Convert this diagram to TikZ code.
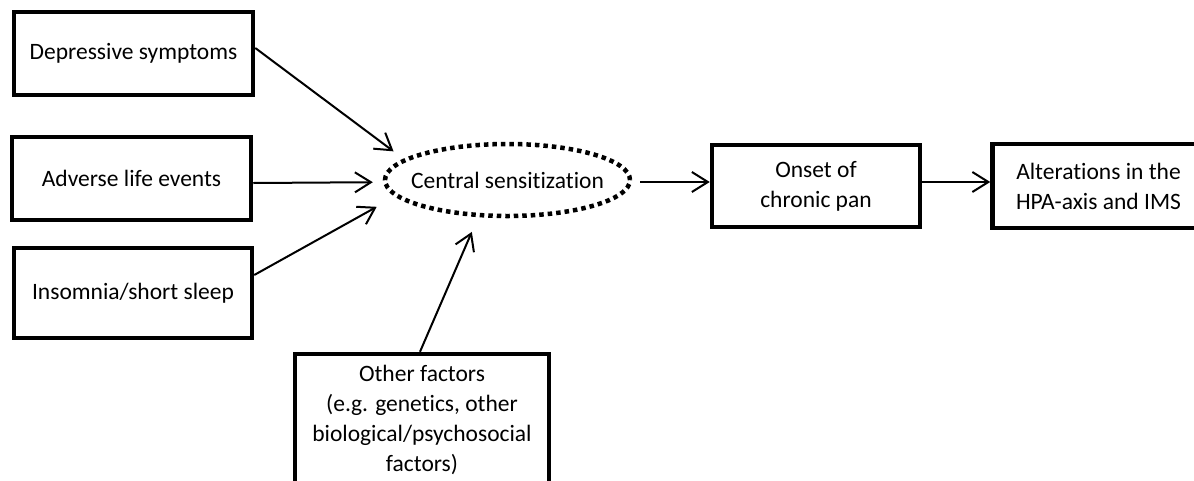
\documentclass[tikz,border=0pt]{standalone}
\usepackage{fontspec}
\setmainfont{Carlito}[Ligatures={NoCommon,NoContextual}]
\usetikzlibrary{arrows.meta,positioning,shapes.geometric}

\begin{document}
\begin{tikzpicture}[x=1pt, y=-1pt,
    every node/.style={font=\fontsize{23.5}{30}\selectfont, align=center},
    box/.style={draw, line width=4.5pt, inner sep=2pt},
    sens/.style={draw, ellipse, line width=4.5pt, dash pattern=on 4.5pt off 4pt,
        inner sep=0pt, outer sep=0pt},
    arr/.style={-{Straight Barb[length=16pt,width=20pt]}, line width=2pt} ]

    \useasboundingbox (0,0) rectangle (1194,480);
    \clip (0,0) rectangle (1194,480);

    % Factors on the left.
    \node[box, minimum width=239pt, minimum height=83pt] (dep) at (133.5,53.5) {Depressive symptoms};
    \node[box, minimum width=239pt, minimum height=83pt] (adv) at (131.5,178.5) {Adverse life events};
    \node[box, minimum width=238pt, minimum height=90pt] (ins) at (133,293) {Insomnia/short sleep};
    \node[box, minimum width=254pt, minimum height=132pt] (oth) at (422,420)
        {Other factors\\(e.g. genetics, other\\biological/psychosocial\\factors)};

    % Central sensitization.
    \node[sens, minimum width=245pt, minimum height=72pt,
        label={center:Central sensitization}] (cs) at (507.5,180) {};

    % Outcomes.
    \node[box, minimum width=208pt, minimum height=82pt] (onset) at (816,186) {Onset of\\chronic pan};
    \node[box, minimum width=212pt, minimum height=84pt, right=68pt of onset] (alt)
        {Alterations in the\\HPA-axis and IMS};

    % Factors into central sensitization.
    \draw[arr, shorten >=14.7pt] ([yshift=5.5pt]dep.east) -- (cs.169.5);
    \draw[arr, shorten >=12.4pt] ([yshift=-4.5pt]adv.east) -- (cs.181.4);
    \draw[arr, shorten >=23.2pt] ([yshift=18pt]ins.east) -- (cs.188);
    \draw[arr, shorten >=18.4pt] ([xshift=-2pt]oth.north) -- (cs.231.2);

    % Chain to the right.
    \draw[arr, shorten <=10pt] ([yshift=-2pt]cs.east) -- ([yshift=4pt]onset.west);
    \draw[arr] ([yshift=4pt]onset.east) -- ([yshift=4pt]alt.west);

\end{tikzpicture}
\end{document}
